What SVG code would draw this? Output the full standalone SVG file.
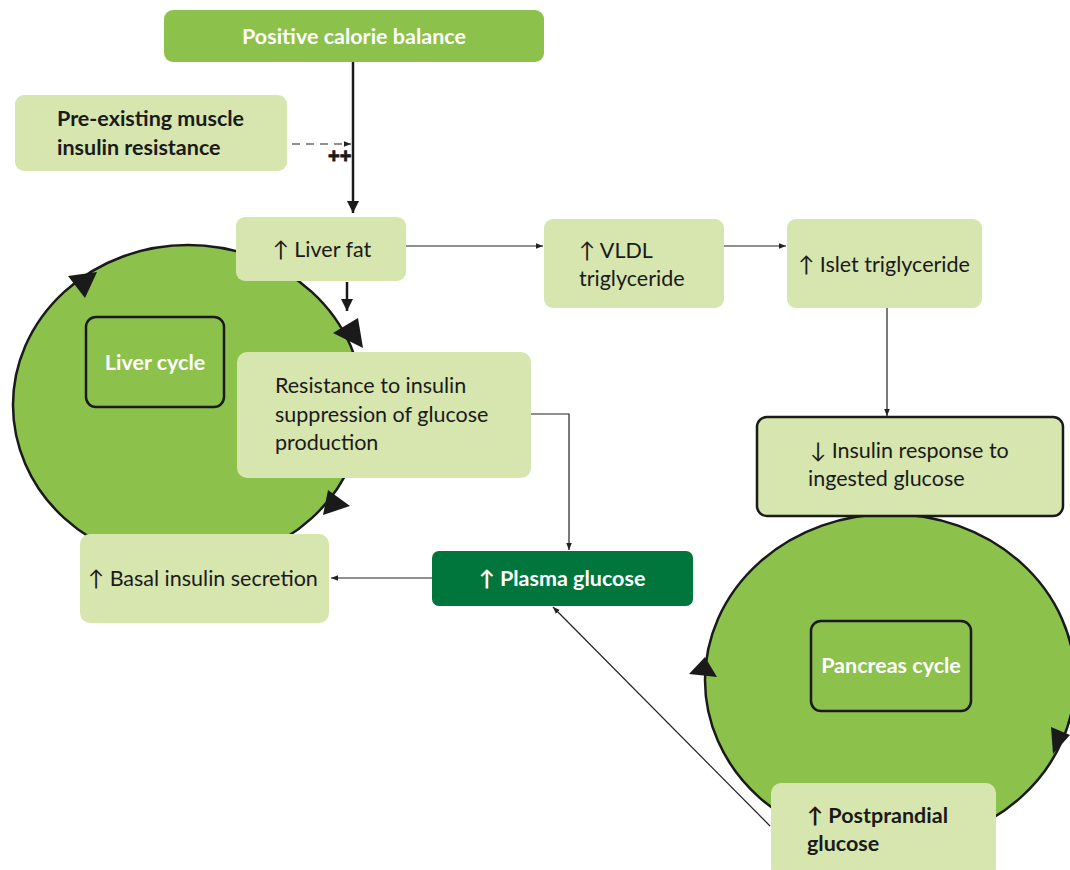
<svg xmlns="http://www.w3.org/2000/svg" width="1070" height="870" viewBox="0 0 1070 870">
<defs>
<style>
.lt{fill:#d7e5ae}
.md{fill:#8cc14b}
.dk{fill:#00763d}
.cyc{fill:#8cc14b;stroke:#1a1a1a;stroke-width:2.5}
.t{font-family:Lato,"Liberation Sans",sans-serif;font-size:21.5px;fill:#1a1a1a}
.tb{font-family:Lato,"Liberation Sans",sans-serif;font-size:21.5px;font-weight:bold;fill:#1a1a1a}
.tw{font-family:Lato,"Liberation Sans",sans-serif;font-size:21.5px;font-weight:bold;fill:#ffffff}
.pp{font-family:"Liberation Sans",sans-serif;font-size:20px;font-weight:bold;fill:#1a1a1a;stroke:#1a1a1a;stroke-width:0.8}
.c{stroke:#222;stroke-width:1.2;fill:none}
.ck{stroke:#1a1a1a;stroke-width:2.5;fill:none}
.ah{fill:#1a1a1a}
</style>
<marker id="a" viewBox="0 0 10 10" refX="10" refY="5" markerWidth="7" markerHeight="7" markerUnits="userSpaceOnUse" orient="auto"><path d="M0,1 L10,5 L0,9 z" fill="#222"/></marker>
<marker id="ak" viewBox="0 0 10 10" refX="10" refY="5" markerWidth="5" markerHeight="5" orient="auto"><path d="M0,0 L10,5 L0,10 z" fill="#1a1a1a"/></marker>
</defs>

<g id="liver-cycle-circle">
<ellipse class="cyc" cx="188" cy="405" rx="175" ry="160"/>
<polygon class="ah" points="97,272 68,276 85,298"/>
<polygon class="ah" points="333,333 358,318 363,348"/>
<polygon class="ah" points="328,490 350,506 323,515"/>
</g>
<g id="pancreas-cycle-circle">
<ellipse class="cyc" cx="890" cy="680" rx="185" ry="166"/>
<polygon class="ah" points="705,657 689,674 717,677"/>
<polygon class="ah" points="1051,727 1070,735 1053,754"/>
</g>

<g id="connectors">
<line class="ck" x1="353" y1="62" x2="353" y2="213" marker-end="url(#ak)"/>
<line class="c" x1="292" y1="144" x2="351" y2="144" stroke-dasharray="8,6" stroke-width="1.4" marker-end="url(#a)"/>
<text class="pp" x="328" y="163">++</text>
<line class="ck" x1="347" y1="282" x2="347" y2="311" marker-end="url(#ak)"/>
<line class="c" x1="406" y1="246" x2="543" y2="246" marker-end="url(#a)"/>
<line class="c" x1="724" y1="246" x2="786" y2="246" marker-end="url(#a)"/>
<line class="c" x1="887" y1="308" x2="887" y2="416" marker-end="url(#a)"/>
<polyline class="c" points="531,414 569,414 569,550" marker-end="url(#a)"/>
<line class="c" x1="432" y1="578" x2="331" y2="578" marker-end="url(#a)"/>
<line class="c" x1="770" y1="826" x2="553" y2="607" marker-end="url(#a)"/>
</g>

<g id="positive-calorie-balance">
<rect class="md" x="164" y="10" width="380" height="52" rx="9"/>
<text class="tw" x="354" y="44" text-anchor="middle">Positive calorie balance</text>
</g>
<g id="pre-existing">
<rect class="lt" x="15" y="95" width="272" height="76" rx="9"/>
<text class="tb" x="57" y="126">Pre-existing muscle</text>
<text class="tb" x="57" y="155">insulin resistance</text>
</g>
<g id="liver-fat">
<rect class="lt" x="236" y="217" width="170" height="64" rx="9"/>
<text class="t" x="322" y="257" text-anchor="middle">↑ Liver fat</text>
</g>
<g id="vldl">
<rect class="lt" x="544" y="219" width="180" height="89" rx="9"/>
<text class="t" x="579" y="258">↑ VLDL</text>
<text class="t" x="579" y="286">triglyceride</text>
</g>
<g id="islet">
<rect class="lt" x="787" y="219" width="195" height="89" rx="9"/>
<text class="t" x="884" y="272" text-anchor="middle">↑ Islet triglyceride</text>
</g>
<g id="insulin-response">
<rect class="lt" x="757" y="417" width="306" height="99" rx="10" stroke="#1a1a1a" stroke-width="2.5"/>
<text class="t" x="810" y="458">↓ Insulin response to</text>
<text class="t" x="808" y="486">ingested glucose</text>
</g>
<g id="liver-cycle">
<rect class="cyc" x="86" y="317" width="138" height="90" rx="10"/>
<text class="tw" x="155" y="370" text-anchor="middle">Liver cycle</text>
</g>
<g id="resistance">
<rect class="lt" x="237" y="352" width="294" height="126" rx="10"/>
<text class="t" x="275" y="393">Resistance to insulin</text>
<text class="t" x="275" y="422">suppression of glucose</text>
<text class="t" x="275" y="450">production</text>
</g>
<g id="basal-insulin">
<rect class="lt" x="80" y="534" width="249" height="89" rx="10"/>
<text class="t" x="88" y="586">↑ Basal insulin secretion</text>
</g>
<g id="plasma-glucose">
<rect class="dk" x="432" y="551" width="261" height="55" rx="7"/>
<text class="tw" x="562" y="586" text-anchor="middle">↑ Plasma glucose</text>
</g>
<g id="pancreas-cycle">
<rect class="cyc" x="811" y="621" width="160" height="90" rx="10"/>
<text class="tw" x="891" y="673" text-anchor="middle">Pancreas cycle</text>
</g>
<g id="postprandial">
<rect class="lt" x="771" y="783" width="225" height="95" rx="10"/>
<text class="tb" x="807" y="823">↑ Postprandial</text>
<text class="tb" x="807" y="851">glucose</text>
</g>
</svg>
